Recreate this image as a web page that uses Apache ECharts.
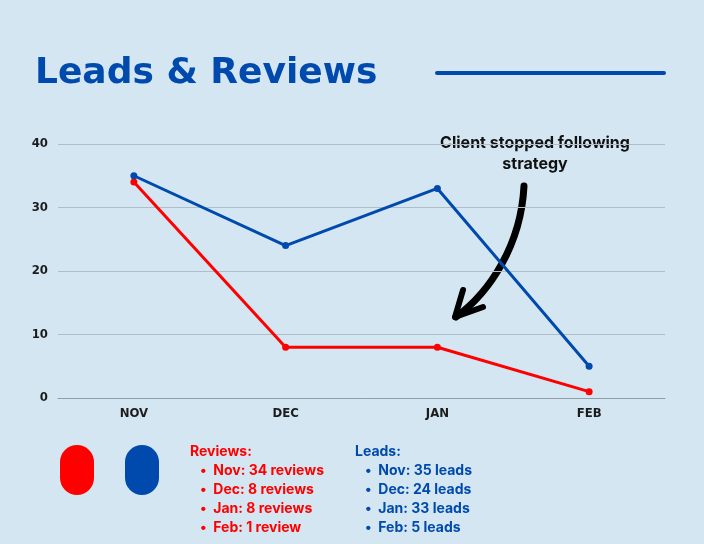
<!DOCTYPE html>
<html>
<head>
<meta charset="utf-8">
<script src="https://cdn.jsdelivr.net/npm/echarts@6/dist/echarts.min.js"></script>
<style>
  html, body { margin: 0; padding: 0; background: #d4e6f1; }
  #chart { width: 704px; height: 544px; }
</style>
</head>
<body>
<div id="chart"></div>
<script>
'use strict';

const months = ['NOV', 'DEC', 'JAN', 'FEB'];
const monthNames = ['Nov', 'Dec', 'Jan', 'Feb'];
const reviews = [34, 8, 8, 1];
const leads = [35, 24, 33, 5];
const yTicks = [0, 10, 20, 30, 40];

const RED = '#ff0000';
const BLUE = '#004aad';
const AXIS_FONT = '"DejaVu Sans Condensed", "Liberation Sans Narrow", sans-serif';
const TEXT_FONT = 'Inter, "Noto Sans", sans-serif';

const chart = echarts.init(document.getElementById('chart'), null, { renderer: 'canvas' });

function listLines(values, unit, single) {
  return values.map((v, i) => '•  ' + monthNames[i] + ': ' + v + ' ' + (v === 1 ? single : unit));
}

function listGraphic(x, title, lines, color) {
  const items = [{
    type: 'text', left: x, top: 445,
    style: { text: title, fill: color, font: 'bold 14px ' + TEXT_FONT }
  }];
  lines.forEach((t, i) => {
    items.push({
      type: 'text', left: x + 10, top: 464 + i * 19,
      style: { text: t, fill: color, font: 'bold 14px ' + TEXT_FONT }
    });
  });
  return items;
}

const option = {
  backgroundColor: '#d4e6f1',
  animation: false,
  grid: { left: 58, right: 39, top: 144, bottom: 146 },
  xAxis: {
    type: 'category',
    data: months,
    boundaryGap: true,
    axisLine: { lineStyle: { color: '#8f9ea9', width: 1 } },
    axisTick: { show: false },
    axisLabel: { color: '#1c1c1c', fontFamily: AXIS_FONT, fontWeight: 'bold', fontSize: 13, margin: 9 }
  },
  yAxis: {
    type: 'value',
    min: yTicks[0],
    max: yTicks[yTicks.length - 1],
    interval: 10,
    axisLine: { show: false },
    axisTick: { show: false },
    axisLabel: { color: '#1c1c1c', fontFamily: AXIS_FONT, fontWeight: 'bold', fontSize: 13, margin: 10 },
    splitLine: { lineStyle: { color: '#aebdc8', width: 1 } }
  },
  series: [
    {
      name: 'Reviews', type: 'line', data: reviews,
      symbol: 'circle', symbolSize: 7,
      lineStyle: { color: RED, width: 3 }, itemStyle: { color: RED }
    },
    {
      name: 'Leads', type: 'line', data: leads,
      symbol: 'circle', symbolSize: 7,
      lineStyle: { color: BLUE, width: 3 }, itemStyle: { color: BLUE }
    }
  ],
  graphic: [
    {
      type: 'text', left: 35, top: 56,
      style: { text: 'Leads & Reviews', fill: BLUE, font: 'bold 36px "DejaVu Sans", sans-serif' }
    },
    {
      type: 'line', shape: { x1: 437, y1: 73, x2: 664, y2: 73 },
      style: { stroke: BLUE, lineWidth: 4, lineCap: 'round' }
    },
    {
      type: 'text', x: 535, y: 133,
      style: {
        text: 'Client stopped following\nstrategy', fill: '#111', align: 'center',
        font: 'bold 16px ' + TEXT_FONT, lineHeight: 21
      }
    },
    {
      type: 'bezierCurve',
      shape: { x1: 524, y1: 186, cpx1: 521, cpy1: 245, cpx2: 490, cpy2: 292, x2: 456, y2: 317 },
      style: { stroke: '#000', lineWidth: 7, lineCap: 'round', fill: null }
    },
    {
      type: 'polyline',
      shape: { points: [[463, 290], [455, 317], [483, 307]] },
      style: { stroke: '#000', lineWidth: 6, lineCap: 'round', lineJoin: 'round', fill: null }
    },
    {
      type: 'rect', shape: { x: 60, y: 445, width: 34, height: 50, r: 17 },
      style: { fill: RED }
    },
    {
      type: 'rect', shape: { x: 125, y: 445, width: 34, height: 50, r: 17 },
      style: { fill: BLUE }
    }
  ]
    .concat(listGraphic(190, 'Reviews:', listLines(reviews, 'reviews', 'review'), RED))
    .concat(listGraphic(355, 'Leads:', listLines(leads, 'leads', 'lead'), BLUE))
};

chart.setOption(option);
</script>
</body>
</html>
